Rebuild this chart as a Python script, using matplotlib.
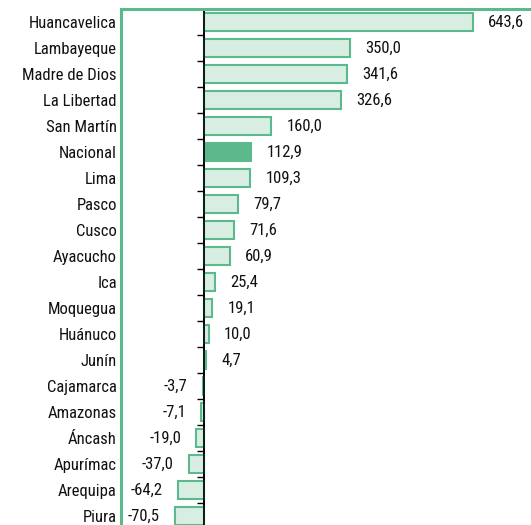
import matplotlib
matplotlib.use("Agg")
import matplotlib.pyplot as plt
from matplotlib.patches import Rectangle

regions = ["Huancavelica", "Lambayeque", "Madre de Dios", "La Libertad", "San Martín",
           "Nacional", "Lima", "Pasco", "Cusco", "Ayacucho", "Ica", "Moquegua",
           "Huánuco", "Junín", "Cajamarca", "Amazonas", "Áncash", "Apurímac",
           "Arequipa", "Piura"]
values = [643.6, 350.0, 341.6, 326.6, 160.0, 112.9, 109.3, 79.7, 71.6, 60.9,
          25.4, 19.1, 10.0, 4.7, -3.7, -7.1, -19.0, -37.0, -64.2, -70.5]
highlight = "Nacional"

green = "#5BB98C"
light = "#D9EEE3"

plt.rcParams['font.family'] = ["Roboto Condensed", "Liberation Sans", "DejaVu Sans"]
fs = 12.0

fig = plt.figure(figsize=(5.31, 5.25), dpi=100)
ax = fig.add_axes([121/531, -4/525, 417/531, 520/525])

n = len(regions)
ypos = list(range(n))
faces = [green if r == highlight else light for r in regions]
ax.barh(ypos, values, height=0.68, color=faces, edgecolor=green, linewidth=1.5, zorder=2)

ax.set_xlim(-200, 800)
ax.set_ylim(n - 0.5, -0.5)

for y, v in zip(ypos, values):
    txt = f"{v:.1f}".replace(".", ",")
    if v >= 0:
        ax.annotate(txt, (v, y), xytext=(11, 0), textcoords="offset points",
                    ha="left", va="center", fontsize=fs, color="#111111")
    else:
        ax.annotate(txt, (v, y), xytext=(-11, 0), textcoords="offset points",
                    ha="right", va="center", fontsize=fs, color="#111111")

ax.set_yticks(ypos)
ax.set_yticklabels(regions, fontsize=fs, color="#111111")
ax.tick_params(axis="y", length=0, pad=3)
ax.set_xticks([])
for s in ax.spines.values():
    s.set_visible(False)

frame = Rectangle((0, 0), 1, 1, transform=ax.transAxes, fill=False,
                  edgecolor=green, linewidth=2.2, clip_on=False, zorder=5)
ax.add_patch(frame)

# zero axis with boundary ticks
ax.axvline(0, color="black", linewidth=1.2, zorder=4)
sec = ax.secondary_yaxis(200/1000)
sec.set_yticks([i - 0.5 for i in range(n + 1)])
sec.set_yticklabels([])
sec.tick_params(axis="y", length=5, width=1, color="black", direction="out")
sec.spines["left"].set_color("black")
sec.spines["left"].set_linewidth(1.2)

fig.savefig("out.png", dpi=100)
